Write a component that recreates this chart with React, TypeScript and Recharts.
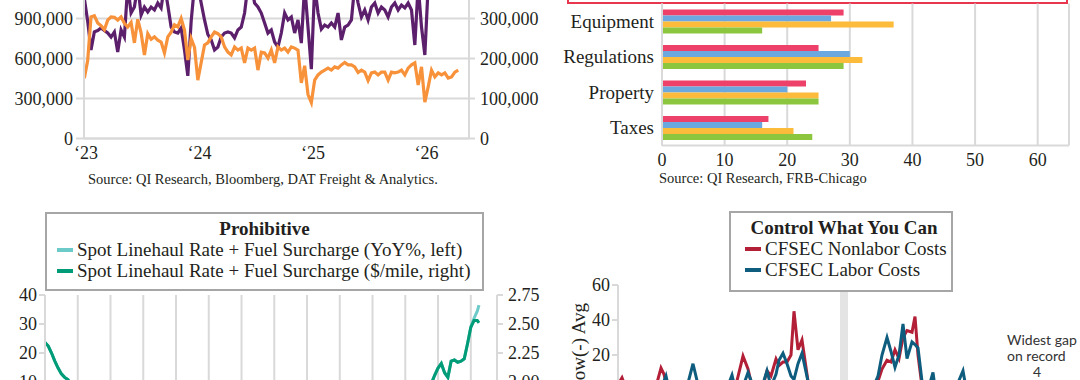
import React from "react";
import {
  LineChart,
  Line,
  BarChart,
  Bar,
  XAxis,
  YAxis,
  CartesianGrid,
  ReferenceArea,
} from "recharts";

const SERIF = '"Liberation Serif", "Times New Roman", serif';
const SANS = 'Lato, "Open Sans", sans-serif';
const GRID = "#d9d9d9";
const INK = "#231f20";

// ---------- top left: two volume series, Jan 2023 onward (thousands)
const volumeStart = 2022.985;
const volumeStep = 1 / 34;
const yearTicks = [2023, 2024, 2025, 2026];
const volumeLeftK = [
  1050, 880, 664, 800, 810, 829, 810, 791, 761, 799,
  649, 814, 761, 1150, 941, 986, 1150, 926, 986, 949,
  986, 964, 1016, 979, 1150, 1000, 836, 799, 791, 829,
  664, 470, 880, 1150, 1150, 1016, 889, 780, 739, 664,
  686, 761, 791, 799, 791, 754, 814, 836, 941, 1150,
  1150, 1016, 986, 941, 866, 791, 814, 724, 686, 791,
  941, 889, 911, 791, 889, 716, 1150, 836, 520, 1150,
  941, 820, 851, 836, 866, 836, 941, 739, 836, 851,
  889, 1150, 1016, 911, 964, 889, 986, 1016, 941, 986,
  964, 911, 986, 1016, 964, 1001, 979, 1016, 964, 701,
  1150, 836, 626, 1150,
];
const volumeRightK = [
  151, 195, 304, 307, 289, 282, 272, 296, 304, 303,
  296, 304, 288, 279, 290, 239, 298, 264, 209, 262,
  248, 254, 246, 241, 214, 254, 266, 284, 279, 300,
  271, 196, 250, 228, 146, 190, 234, 239, 254, 266,
  262, 254, 229, 216, 209, 229, 221, 226, 189, 226,
  221, 226, 171, 216, 214, 201, 221, 189, 229, 221,
  226, 216, 229, 226, 221, 139, 182, 110, 90, 146,
  159, 166, 171, 176, 171, 179, 176, 184, 190, 184,
  184, 179, 165, 171, 166, 145, 164, 166, 159, 166,
  166, 146, 166, 164, 166, 171, 159, 176, 184, 189,
  134, 179, 91, 129, 171, 154, 164, 159, 164, 151,
  154, 166, 171,
];

// ---------- top right: cost pressure shares by category
const costCategories = ["Equipment", "Regulations", "Property", "Taxes"];
const costSeriesA = [29, 25, 23, 17];
const costSeriesB = [27, 30, 20, 16];
const costSeriesC = [37, 32, 25, 21];
const costSeriesD = [16, 29, 25, 24];

// ---------- bottom left: spot linehaul + fuel surcharge
const spotX = [0, 1, 2, 3, 4, 5, 6, 7, 8, 10, 14, 25, 40, 55, 70, 85, 100, 112, 116, 117, 118, 119, 120, 121, 122, 123, 124, 125, 126, 127, 128, 129, 130, 131, 132, 132.5];
const spotYoy = [23.6, 22.4, 20, 17.2, 14.8, 12.8, 11.6, 10.8, 9.2, 6.8, 4, -1.2, -5.2, -6.8, -6, -4, -2, 2, 5.2, 7.2, 9.6, 12.4, 14.8, 16.4, 13.2, 11.6, 17.2, 17.6, 16.8, 17.2, 18, 23.2, 29, 32, 34.5, 36.5];
const spotRate = [2.34, 2.31, 2.25, 2.18, 2.12, 2.07, 2.04, 2.02, 1.98, 1.92, 1.85, 1.72, 1.62, 1.58, 1.6, 1.65, 1.7, 1.8, 1.88, 1.93, 1.99, 2.06, 2.12, 2.16, 2.08, 2.04, 2.18, 2.19, 2.17, 2.18, 2.2, 2.33, 2.47, 2.53, 2.53, 2.51];
const spotGridTicks = [10, 20, 30, 40, 50, 60, 70, 80, 90, 100, 110, 120, 130];

// ---------- bottom right: CFSEC cost indexes
const cfsecX = [0, 4, 12, 22, 32, 38, 43, 46, 48, 52, 62, 70, 75, 80, 87, 97, 107, 114, 118, 125, 130, 134, 142, 149, 153, 158, 161, 165, 169, 173, 176, 180, 184, 190, 197, 212, 227, 242, 254, 260, 264, 269, 273, 277, 281, 285, 289, 294, 297, 300, 304, 310, 315, 318, 327, 337, 345, 349, 362, 372];
const cfsecNonlabor = [3, 7, -5, -8, -3, 2, 12.6, 9, 4, -3, -6, -2, 2, -3, -8, -10, -4, 2, 3, 19.4, 12, 2, -4, 11, 8, 17.7, 14, 16, 16, 20, 45, 23, 28.6, 5, -8, -15, -20, -10, -2, 5, 12, 17, 16, 23, 18, 30, 34, 33, 42, 20, 2, -4, 2, -5, -8, -3, 2, -4, -10, -22];
const cfsecLabor = [-3, 0, -8, -10, -6, 0, 2, 5, 8, -2, -5, 4, 15, 3, -8, -10, -2, 8.5, -1, 2, 10, 4, -2, 11, 2, 9, 17, 21, 15, 8, 6, 15, 21, 5, -10, -12, -18, -8, 0, 8, 20, 30, 22, 13, 20, 37.7, 18, 27.5, 26, 24, 5, 0, 10, -3, -6, 0, 11, -2, -8, -2];
const recessionBand = [222, 230];

const volumeLeftData = volumeLeftK.map((v, i) => ({ t: volumeStart + i * volumeStep, v: v * 1000 }));
const volumeRightData = volumeRightK.map((v, i) => ({ t: volumeStart + i * volumeStep, v: v * 1000 }));
const costRows = costCategories.map((name, i) => ({
  name,
  a: costSeriesA[i],
  b: costSeriesB[i],
  c: costSeriesC[i],
  d: costSeriesD[i],
}));
const spotRows = spotX.map((u, i) => ({ u, yoy: spotYoy[i], rate: spotRate[i] }));
const cfsecRows = cfsecX.map((u, i) => ({ u, nonlabor: cfsecNonlabor[i], labor: cfsecLabor[i] }));

const tickStyle = { fill: INK, fontSize: 18, fontFamily: SERIF };
const catStyle = { fill: INK, fontSize: 19, fontFamily: SERIF };
const axisStyle = { stroke: GRID, strokeWidth: 2 };
const thousands = (v: number) => v.toLocaleString("en-US");

const abs = (left: number, top: number): React.CSSProperties => ({ position: "absolute", left, top });
const sourceStyle: React.CSSProperties = { fontFamily: SERIF, fontSize: 14.5, color: INK, whiteSpace: "nowrap" };

function VolumeChart() {
  return (
    <div style={abs(0, -70)}>
      <LineChart width={540} height={240} margin={{ top: 8.5, right: 0, bottom: 1.5, left: 0 }}>
        <CartesianGrid vertical={false} stroke={GRID} strokeWidth={2} yAxisId="l" />
        <XAxis
          type="number"
          dataKey="t"
          domain={[2022.982, 2026.374]}
          allowDataOverflow
          ticks={yearTicks}
          interval={0}
          tickFormatter={(y) => "\u2018" + String(y).slice(2)}
          tick={tickStyle}
          axisLine={axisStyle}
          tickLine={false}
          height={30}
        />
        <YAxis
          yAxisId="l"
          domain={[0, 1500000]}
          ticks={[0, 300000, 600000, 900000]}
          interval={0}
          tickFormatter={thousands}
          width={84}
          tick={tickStyle}
          axisLine={axisStyle}
          tickLine={axisStyle}
          tickSize={8}
          tickMargin={3}
        />
        <YAxis
          yAxisId="r"
          orientation="right"
          domain={[0, 500000]}
          ticks={[0, 100000, 200000, 300000]}
          interval={0}
          tickFormatter={thousands}
          width={71}
          tick={tickStyle}
          axisLine={axisStyle}
          tickLine={axisStyle}
          tickSize={6}
          tickMargin={5}
        />
        <Line yAxisId="l" data={volumeLeftData} dataKey="v" stroke="#5c1f6b" strokeWidth={3.2} dot={false} isAnimationActive={false} />
        <Line yAxisId="r" data={volumeRightData} dataKey="v" stroke="#f7923a" strokeWidth={3.2} dot={false} isAnimationActive={false} />
      </LineChart>
      <div style={{ ...sourceStyle, ...abs(88, 241) }}>
        Source: QI Research, Bloomberg, DAT Freight &amp; Analytics.
      </div>
    </div>
  );
}

function CostChart() {
  return (
    <div style={abs(540, 0)}>
      <div style={{ ...abs(27, -40), width: 497, height: 40, border: "2px solid #e8364f" }} />
      <BarChart
        layout="vertical"
        width={540}
        height={180}
        data={costRows}
        margin={{ top: 3.5, right: 11, bottom: 4.5, left: 0 }}
        barGap={0}
        barSize={6}
      >
        <CartesianGrid horizontal={false} stroke={GRID} strokeWidth={2} />
        <XAxis
          type="number"
          domain={[0, 65]}
          ticks={[0, 10, 20, 30, 40, 50, 60]}
          interval={0}
          tick={tickStyle}
          axisLine={axisStyle}
          tickLine={false}
          height={30}
        />
        <YAxis type="category" dataKey="name" width={122} interval={0} tick={catStyle} axisLine={axisStyle} tickLine={false} />
        <Bar dataKey="a" fill="#ee4169" isAnimationActive={false} />
        <Bar dataKey="b" fill="#6aa8df" isAnimationActive={false} />
        <Bar dataKey="c" fill="#fdbb3b" isAnimationActive={false} />
        <Bar dataKey="d" fill="#8cc63f" isAnimationActive={false} />
      </BarChart>
      <div style={{ ...sourceStyle, ...abs(119, 170) }}>Source: QI Research, FRB-Chicago</div>
    </div>
  );
}

const boxStyle: React.CSSProperties = {
  position: "absolute",
  boxSizing: "border-box",
  border: "2px solid #a6a6a6",
  background: "#fff",
  fontFamily: SERIF,
  fontSize: 19,
  lineHeight: "21px",
  color: INK,
  paddingTop: 4,
  whiteSpace: "nowrap",
};

function LegendRow({ color, label, indent }: { color: string; label: string; indent: number }) {
  return (
    <div style={{ display: "flex", alignItems: "center", paddingLeft: indent }}>
      <span style={{ display: "inline-block", width: 16, height: 4, background: color, marginRight: 4 }} />
      {label}
    </div>
  );
}

function SpotChart() {
  return (
    <div style={abs(0, 190)}>
      <LineChart width={540} height={300} data={spotRows} margin={{ top: 105, right: 0, bottom: 21, left: 0 }}>
        <CartesianGrid horizontal={false} stroke={GRID} strokeWidth={2} />
        <XAxis type="number" dataKey="u" domain={[0, 138]} ticks={spotGridTicks} interval={0} hide />
        <YAxis
          yAxisId="l"
          domain={[-20, 40]}
          ticks={[10, 20, 30, 40]}
          interval={0}
          width={45}
          tick={tickStyle}
          axisLine={axisStyle}
          tickLine={axisStyle}
        />
        <YAxis
          yAxisId="r"
          orientation="right"
          domain={[1.25, 2.75]}
          ticks={[2, 2.25, 2.5, 2.75]}
          interval={0}
          tickFormatter={(v) => v.toFixed(2)}
          width={43}
          tick={tickStyle}
          axisLine={axisStyle}
          tickLine={axisStyle}
          tickMargin={5}
        />
        <Line yAxisId="l" dataKey="yoy" stroke="#6ccbc8" strokeWidth={3} dot={false} isAnimationActive={false} />
        <Line yAxisId="r" dataKey="rate" stroke="#009b77" strokeWidth={3} dot={false} isAnimationActive={false} />
      </LineChart>
      <div style={{ ...boxStyle, left: 45, top: 22, width: 439, height: 79 }}>
        <div style={{ textAlign: "center", fontWeight: 700 }}>Prohibitive</div>
        <LegendRow color="#6ccbc8" label="Spot Linehaul Rate + Fuel Surcharge (YoY%, left)" indent={10} />
        <LegendRow color="#009b77" label="Spot Linehaul Rate + Fuel Surcharge ($/mile, right)" indent={10} />
      </div>
    </div>
  );
}

function AvgLabel(props: any) {
  const vb = props.viewBox || { x: 0, y: 95 };
  const x = vb.x + 45;
  const y = vb.y + 18;
  return (
    <text x={x} y={y} transform={`rotate(-90 ${x} ${y})`} textAnchor="end" fill={INK} fontSize={19} fontFamily={SERIF}>
      Above(+)/Below(-) Avg
    </text>
  );
}

function CfsecChart() {
  return (
    <div style={abs(540, 190)}>
      <LineChart width={540} height={320} data={cfsecRows} margin={{ top: 95, right: 80, bottom: 15, left: 0 }}>
        <XAxis type="number" dataKey="u" domain={[0, 382]} hide />
        <YAxis
          domain={[-60, 60]}
          ticks={[20, 40, 60]}
          interval={0}
          width={78}
          tick={tickStyle}
          axisLine={axisStyle}
          tickLine={axisStyle}
          label={{ content: AvgLabel }}
        />
        <ReferenceArea x1={recessionBand[0]} x2={recessionBand[1]} fill="#e4e4e4" fillOpacity={1} strokeWidth={0} />
        <Line dataKey="nonlabor" stroke="#b21f36" strokeWidth={3} dot={false} isAnimationActive={false} />
        <Line dataKey="labor" stroke="#0e5d7f" strokeWidth={3} dot={false} isAnimationActive={false} />
      </LineChart>
      <div style={{ ...boxStyle, left: 189, top: 21, width: 224, height: 81 }}>
        <div style={{ textAlign: "center", fontWeight: 700, paddingLeft: 6 }}>Control What You Can</div>
        <LegendRow color="#b21f36" label="CFSEC Nonlabor Costs" indent={14} />
        <LegendRow color="#0e5d7f" label="CFSEC Labor Costs" indent={14} />
      </div>
      <div style={{ ...abs(467, 142), fontFamily: SANS, fontSize: 14, lineHeight: "16px", color: "#333", whiteSpace: "nowrap" }}>
        <div>Widest gap</div>
        <div>on record</div>
        <div style={{ width: 60, textAlign: "center" }}>4</div>
      </div>
    </div>
  );
}

export default function App() {
  return (
    <div
      style={{
        position: "absolute",
        left: 0,
        top: 0,
        width: 1080,
        height: 380,
        overflow: "hidden",
        background: "#fff",
        fontFamily: SERIF,
      }}
    >
      <VolumeChart />
      <CostChart />
      <SpotChart />
      <CfsecChart />
    </div>
  );
}
